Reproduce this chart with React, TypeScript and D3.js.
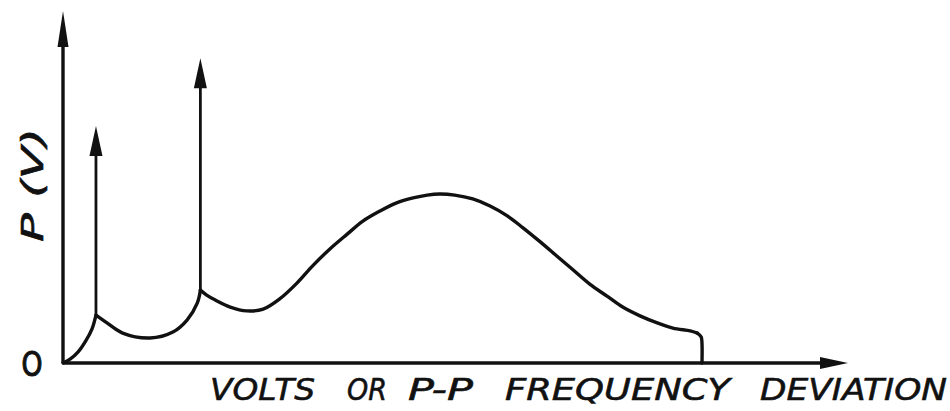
import React from "react";
import * as d3 from "d3";

type Pt = [number, number];

// Curve segments (arbitrary units: x 0..100 along axis, y 0..100 up the axis)
const segLeft: Pt[] = [[0, 0], [0.9, 1.1], [1.9, 3.1], [2.9, 6.3], [3.7, 9.7], [4.2, 13.6]];
const segMiddle: Pt[] = [[4.2, 13.6], [5.6, 11.4], [7.6, 8.5], [11.1, 7.1], [14.0, 8.8], [15.8, 12.2], [17.1, 17.0], [17.5, 20.7]];
const segRight: Pt[] = [
  [17.5, 20.7], [18.3, 19.3], [19.4, 17.9], [21.3, 15.9], [23.4, 14.8], [25.5, 15.3], [27.6, 18.2],
  [29.8, 22.7], [31.8, 27.6], [34.0, 32.4], [36.2, 36.6], [38.2, 40.3], [40.4, 43.2], [42.5, 45.5],
  [44.6, 46.9], [46.4, 47.7], [48.0, 48.0], [49.9, 47.7], [52.2, 46.6], [54.4, 44.6], [56.6, 41.8],
  [58.6, 38.4], [60.8, 34.4], [62.9, 30.4], [65.0, 26.4], [67.1, 22.4], [69.3, 19.0], [71.3, 15.9],
  [73.5, 13.4], [75.7, 11.4], [77.7, 9.9], [79.9, 9.1], [80.8, 8.5],
];
const segTail: Pt[] = [[80.8, 8.5], [81.3, 7.4], [81.4, 5.5], [81.4, 0]];

// Spikes (delta functions) drawn as arrows
const spikeX = [4.2, 17.5];
const spikeBase = [13.6, 20.7];
const spikeTop = [67.3, 86.6];

// Axis extents
const xAxisEnd = 100;
const yAxisEnd = 100;

const xLabelWords = ["VOLTS", "OR", "P-P", "FREQUENCY", "DEVIATION"];
const xLabelStart = [210, 347, 408, 505, 760];
const xLabelWidth = [105, 40, 65, 225, 187];
const yLabel = "P (V)";
const originLabel = "O";

const W = 950;
const H = 411;

export default function App() {
  const x = d3.scaleLinear().domain([0, 100]).range([63, 848]);
  const y = d3.scaleLinear().domain([0, 100]).range([363, 11]);

  const curve = d3
    .line<Pt>()
    .x((d) => x(d[0]))
    .y((d) => y(d[1]))
    .curve(d3.curveCatmullRom.alpha(0.5));

  const stroke = "#111";
  const font = "'DejaVu Sans', sans-serif";

  const upArrow = (cx: number, tip: number, len: number, half: number) =>
    `M${cx},${tip} L${cx - half},${tip + len} L${cx + half},${tip + len} Z`;

  return (
    <svg
      width={W}
      height={H}
      viewBox={`0 0 ${W} ${H}`}
      style={{ position: "absolute", left: 0, top: 0, background: "#fff" }}
    >
      <rect x={0} y={0} width={W} height={H} fill="#fff" />
      {/* Y axis */}
      <line x1={x(0)} y1={y(0)} x2={x(0)} y2={y(yAxisEnd) + 30} stroke={stroke} strokeWidth={3.4} />
      <path d={upArrow(x(0), y(yAxisEnd), 36, 5.5)} fill={stroke} />
      {/* X axis */}
      <line x1={x(0)} y1={y(0)} x2={x(xAxisEnd) - 24} y2={y(0)} stroke={stroke} strokeWidth={3.4} />
      <path
        d={`M${x(xAxisEnd)},${y(0)} L${x(xAxisEnd) - 28},${y(0) - 6} L${x(xAxisEnd) - 28},${y(0) + 6} Z`}
        fill={stroke}
      />
      {/* Curve */}
      {[segLeft, segMiddle, segRight, segTail].map((s, i) => (
        <path key={i} d={curve(s) || ""} fill="none" stroke={stroke} strokeWidth={3.4} strokeLinejoin="round" strokeLinecap="round" />
      ))}
      {/* Spikes */}
      {spikeX.map((sx, i) => (
        <g key={i}>
          <line x1={x(sx)} y1={y(spikeBase[i])} x2={x(sx)} y2={y(spikeTop[i]) + 25} stroke={stroke} strokeWidth={2.8} />
          <path d={upArrow(x(sx), y(spikeTop[i]), 30, 6.5)} fill={stroke} />
        </g>
      ))}
      {/* Labels */}
      <text
        x={32}
        y={376}
        textAnchor="middle"
        fontFamily={font}
        fontSize={34}
        fill={stroke}
        stroke={stroke}
        strokeWidth={1.2}
        textLength={21}
        lengthAdjust="spacingAndGlyphs"
      >
        {originLabel}
      </text>
      <text
        transform="translate(43,242) rotate(-90)"
        fontFamily={font}
        fontSize={30}
        fontStyle="italic"
        fill={stroke}
        stroke={stroke}
        strokeWidth={0.6}
        textLength={114}
        lengthAdjust="spacingAndGlyphs"
      >
        {yLabel}
      </text>
      <text fontFamily={font} fontSize={31} fontStyle="italic" fill={stroke} stroke={stroke} strokeWidth={0.6}>
        {xLabelWords.map((w, i) => (
          <tspan key={i} x={xLabelStart[i]} y={400} textLength={xLabelWidth[i]} lengthAdjust="spacingAndGlyphs">
            {w}
          </tspan>
        ))}
      </text>
    </svg>
  );
}
